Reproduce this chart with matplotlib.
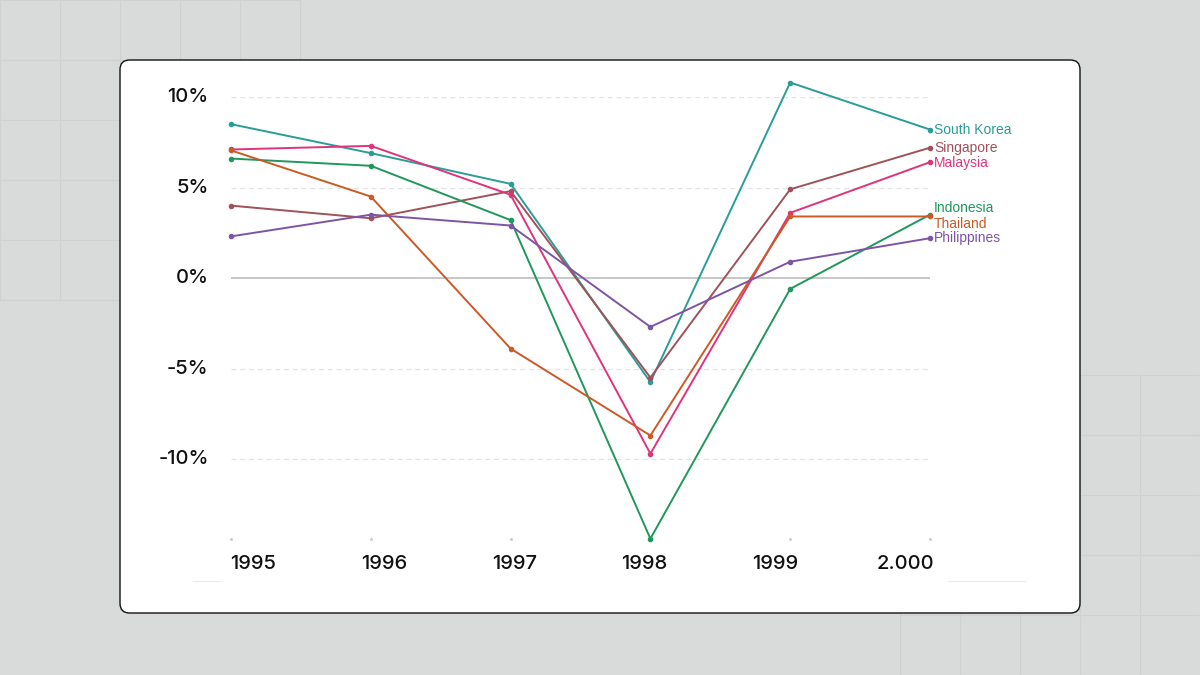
import matplotlib.pyplot as plt
from matplotlib.patches import FancyBboxPatch
from matplotlib.lines import Line2D

years = [1995, 1996, 1997, 1998, 1999, 2000]
year_labels = ['1995', '1996', '1997', '1998', '1999', '2.000']
countries = ['South Korea', 'Singapore', 'Malaysia', 'Indonesia', 'Thailand', 'Philippines']
south_korea = [8.5, 6.9, 5.2, -5.75, 10.8, 8.2]
singapore = [4.0, 3.3, 4.8, -5.5, 4.9, 7.2]
malaysia = [7.1, 7.3, 4.6, -9.7, 3.6, 6.4]
indonesia = [6.6, 6.2, 3.2, -14.4, -0.6, 3.5]
thailand = [7.05, 4.5, -3.9, -8.7, 3.4, 3.4]
philippines = [2.3, 3.5, 2.9, -2.7, 0.9, 2.2]
colors = ['#2a9d97', '#a0525a', '#e0337e', '#20975c', '#cc5a26', '#7d55a6']
label_y = [8.2, 7.2, 6.35, 3.85, 3.0, 2.2]

series = [south_korea, singapore, malaysia, indonesia, thailand, philippines]

fig = plt.figure(figsize=(12, 6.75), dpi=100)
fig.patch.set_facecolor('#d9dbda')

# background grid patches (top-left and bottom-right)
gl = dict(color='#cfd1d0', lw=0.8, zorder=-5)
for gx in range(0, 301, 60):
    fig.add_artist(Line2D([gx / 1200, gx / 1200], [1, 1 - 300 / 675], **gl))
for gy in range(0, 301, 60):
    fig.add_artist(Line2D([0, 300 / 1200], [1 - gy / 675, 1 - gy / 675], **gl))
for gx in range(900, 1201, 60):
    fig.add_artist(Line2D([gx / 1200, gx / 1200], [1 - 375 / 675, 0], **gl))
for gy in range(375, 676, 60):
    fig.add_artist(Line2D([900 / 1200, 1], [1 - gy / 675, 1 - gy / 675], **gl))

# card
card = FancyBboxPatch((120 / 1200, 1 - 613 / 675), 960 / 1200, 553 / 675,
                      boxstyle='round,pad=0,rounding_size=0.008',
                      transform=fig.transFigure, facecolor='white',
                      edgecolor='#111111', lw=1.0, mutation_aspect=1200 / 675,
                      zorder=-2)
fig.add_artist(card)

# faint blue segments under the axis
fig.add_artist(Line2D([193 / 1200, 220 / 1200], [1 - 581 / 675] * 2, color='#e3ecf7', lw=0.8, zorder=-1))
fig.add_artist(Line2D([948 / 1200, 1025 / 1200], [1 - 581 / 675] * 2, color='#e3ecf7', lw=0.8, zorder=-1))

ax = fig.add_axes([231 / 1200, 1 - 540.5 / 675, 699 / 1200, 443.5 / 675])
ax.set_zorder(2)
ax.set_facecolor('none')
ax.set_xlim(1995, 2000)
ax.set_ylim(-14.5, 10)
for s in ax.spines.values():
    s.set_visible(False)
ax.set_xticks([])
ax.set_yticks([])

for gv in [10, 5, -5, -10]:
    ax.axhline(gv, color='#e2e2e2', lw=0.9, ls=(0, (4, 3)), zorder=0)
ax.axhline(0, color='#bdbdbd', lw=1.2, zorder=0)

for vals, c in zip(series, colors):
    ax.plot(years, vals, color=c, lw=1.4, marker='o', ms=3, clip_on=False, zorder=3)

for name, c, ly in zip(countries, colors, label_y):
    ax.text(2000.03, ly, name, color=c, fontsize=10, family='Liberation Sans',
            va='center', ha='left')

# y tick labels
for v, t in zip([10, 5, 0, -5, -10], ['10%', '5%', '0%', '-5%', '-10%']):
    ax.text(1994.84, v, t, fontsize=14.5, family='Inter', fontweight='medium',
            color='#111111', ha='right', va='center')

# tiny tick dots
for yr in years:
    ax.plot([yr], [-14.4], marker='s', ms=1, color='#cccccc', clip_on=False)

# x tick labels
for i, t in enumerate(year_labels):
    ax.text(1995.16 + i * 0.933, -15.78, t, fontsize=14.5, family='Inter',
            fontweight='medium', color='#111111', ha='center', va='center')

plt.savefig('out.png', dpi=100, facecolor=fig.get_facecolor())
